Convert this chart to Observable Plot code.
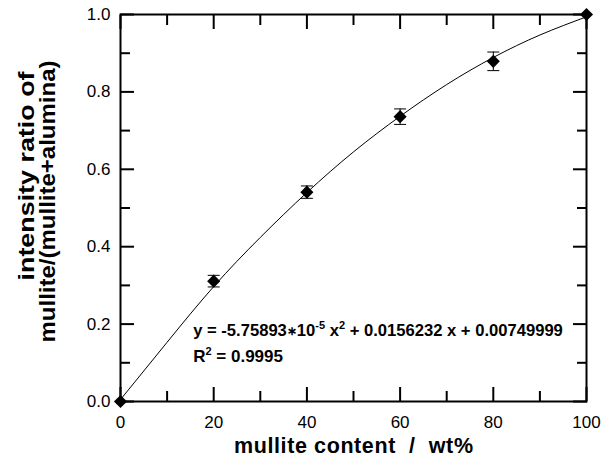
<!DOCTYPE html>
<html><head><meta charset="utf-8">
<script src="https://cdn.jsdelivr.net/npm/d3@7"></script>
<script src="https://cdn.jsdelivr.net/npm/@observablehq/plot@0.6"></script>
<style>body{margin:0;background:#fff}</style>
</head><body><div id="chart"></div>
<script>
// measured points
const mulliteContent = [0, 20, 40, 60, 80, 100];
const intensityRatio = [0, 0.311, 0.541, 0.736, 0.879, 1.0];
const errorBar = [0, 0.015, 0.016, 0.020, 0.024, 0];
// fitted curve
const fitX = [0, 10, 20, 30, 40, 50, 60, 70, 80, 90, 100];
const fitY = [0.005, 0.153, 0.297, 0.424, 0.540, 0.645, 0.737, 0.819, 0.889, 0.947, 0.994];
// ticks
const xMajorTicks = [0, 20, 40, 60, 80, 100];
const xMinorTicks = [10, 30, 50, 70, 90];
const yMajorTicks = [0, 0.2, 0.4, 0.6, 0.8, 1.0];
const yMinorTicks = [0.1, 0.3, 0.5, 0.7, 0.9];
// texts
const equationText = "y = -5.75893*10-5 x2 + 0.0156232 x + 0.00749999";
const r2Text = "R2 = 0.9995";
const xLabel = "mullite content \u00A0/\u00A0 wt%";
const yLabelLines = ["intensity ratio of", "mullite/(mullite+alumina)"];

const points = mulliteContent.map((x, i) => ({x, y: intensityRatio[i], e: errorBar[i]}));
const errPoints = points.filter(d => d.e > 0);
const fit = fitX.map((x, i) => ({x, y: fitY[i]}));

const capSymbol = {draw(ctx) { ctx.moveTo(-6, 0); ctx.lineTo(6, 0); }};
const font = "'Liberation Sans', Arial, Helvetica, sans-serif";

const chart = Plot.plot({
  width: 613,
  height: 459,
  marginLeft: 120,
  marginRight: 27,
  marginTop: 14,
  marginBottom: 58,
  style: {fontFamily: font, fontSize: "17px", color: "black", background: "white"},
  x: {domain: [0, 100]},
  y: {domain: [0, 1]},
  marks: [
    Plot.line(fit, {x: "x", y: "y", stroke: "black", strokeWidth: 1, curve: "natural"}),
    Plot.ruleX(errPoints, {x: "x", y1: d => d.y - d.e, y2: d => d.y + d.e, stroke: "black", strokeWidth: 1}),
    Plot.dot(errPoints, {x: "x", y: d => d.y - d.e, symbol: capSymbol, stroke: "black", strokeWidth: 1, fill: "none"}),
    Plot.dot(errPoints, {x: "x", y: d => d.y + d.e, symbol: capSymbol, stroke: "black", strokeWidth: 1, fill: "none"}),
    Plot.dot(points, {x: "x", y: "y", symbol: "diamond2", r: 5.9, fill: "black", stroke: "none"}),
    Plot.frame({stroke: "black", strokeWidth: 2}),
    // inward ticks on all four sides
    Plot.axisX(xMajorTicks, {anchor: "bottom", tickSize: -14, strokeWidth: 2, fill: "none", label: null}),
    Plot.axisX(xMinorTicks, {anchor: "bottom", tickSize: -10, strokeWidth: 2, fill: "none", label: null}),
    Plot.axisX(xMajorTicks, {anchor: "top", tickSize: -14, strokeWidth: 2, fill: "none", label: null}),
    Plot.axisX(xMinorTicks, {anchor: "top", tickSize: -10, strokeWidth: 2, fill: "none", label: null}),
    Plot.axisY(yMajorTicks, {anchor: "left", tickSize: -14, strokeWidth: 2, fill: "none", label: null}),
    Plot.axisY(yMinorTicks, {anchor: "left", tickSize: -10, strokeWidth: 2, fill: "none", label: null}),
    Plot.axisY(yMajorTicks, {anchor: "right", tickSize: -14, strokeWidth: 2, fill: "none", label: null}),
    Plot.axisY(yMinorTicks, {anchor: "right", tickSize: -10, strokeWidth: 2, fill: "none", label: null}),
    // tick labels
    Plot.axisX(xMajorTicks, {anchor: "bottom", tickSize: 0, tickPadding: 14, label: null, tickFormat: d3.format("d")}),
    Plot.axisY(yMajorTicks, {anchor: "left", tickSize: 0, tickPadding: 10, label: null, tickFormat: d3.format(".1f")}),
    // axis titles
    Plot.text([xLabel], {text: d => d, frameAnchor: "bottom", textAnchor: "middle", lineAnchor: "bottom", dy: 51, fontWeight: "bold", fontSize: 21.5}),
    Plot.text([yLabelLines[0]], {text: d => d, frameAnchor: "left", textAnchor: "middle", rotate: -90, lineAnchor: "middle", dx: -93, dy: -32, fontWeight: "bold", fontSize: 21.5}),
    Plot.text([yLabelLines[1]], {text: d => d, frameAnchor: "left", textAnchor: "middle", rotate: -90, lineAnchor: "middle", dx: -72, dy: -6.5, fontWeight: "bold", fontSize: 21.5}),
    // fit annotation
    Plot.text([equationText], {x: 15.6, y: 0.1705, text: d => d, textAnchor: "start", lineAnchor: "bottom", fontWeight: "bold", fontSize: 16.6}),
    Plot.text([r2Text], {x: 15.6, y: 0.1008, text: d => d, textAnchor: "start", lineAnchor: "bottom", fontWeight: "bold", fontSize: 17})
  ]
});

// typographic touches: stretch titles to the reference lengths, real superscripts
const root = d3.select(chart);
const lengths = {[xLabel]: [239, "spacing"], [yLabelLines[0]]: [209, "spacingAndGlyphs"], [yLabelLines[1]]: [282, "spacingAndGlyphs"]};
root.selectAll("text").each(function() {
  const t = this.textContent;
  const sel = d3.select(this);
  if (lengths[t]) {
    sel.attr("textLength", lengths[t][0]).attr("lengthAdjust", lengths[t][1]);
  } else if (t === equationText) {
    sel.text(null);
    sel.append("tspan").text("y = -5.75893");
    sel.append("tspan").attr("font-size", 12).attr("dy", -1).text("\u2217");
    sel.append("tspan").attr("dy", 1).text("10");
    sel.append("tspan").attr("font-size", 11).attr("dy", -7).text("-5");
    sel.append("tspan").attr("dy", 7).text(" x");
    sel.append("tspan").attr("font-size", 11).attr("dy", -7).text("2");
    sel.append("tspan").attr("dy", 7).text(" + 0.0156232 x + 0.00749999");
  } else if (t === r2Text) {
    sel.text(null);
    sel.append("tspan").text("R");
    sel.append("tspan").attr("font-size", 11).attr("dy", -7).text("2");
    sel.append("tspan").attr("dy", 7).text(" = 0.9995");
  }
});
document.getElementById("chart").appendChild(chart);
</script>
</body></html>
